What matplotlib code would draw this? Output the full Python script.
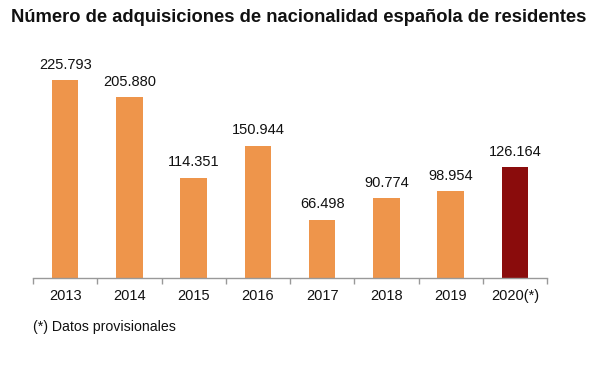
import matplotlib
matplotlib.use("Agg")
import matplotlib.pyplot as plt

plt.rcParams['font.family'] = ['Liberation Sans', 'DejaVu Sans']

years = ["2013", "2014", "2015", "2016", "2017", "2018", "2019", "2020(*)"]
values = [225793, 205880, 114351, 150944, 66498, 90774, 98954, 126164]
value_labels = ["225.793", "205.880", "114.351", "150.944", "66.498", "90.774", "98.954", "126.164"]
title = "Número de adquisiciones de nacionalidad española de residentes"
footnote = "(*) Datos provisionales"

W, H = 610, 373
fig = plt.figure(figsize=(W / 100, H / 100), dpi=100)
left, right, bottom, top = 33, 547, 278, 60
ax = fig.add_axes([left / W, (H - bottom) / H, (right - left) / W, (bottom - top) / H])

orange = "#EE954B"
red = "#8A0C0C"
colors = [orange] * 7 + [red]
x = list(range(len(years)))
ax.bar(x, values, width=0.41, color=colors)
ax.set_xlim(-0.5, len(years) - 0.5)
ax.set_ylim(0, 225793 * (bottom - top) / 198)

for xi, v, lab in zip(x, values, value_labels):
    ax.annotate(lab, (xi, v), xytext=(0, 6), textcoords="offset points",
                ha="center", va="bottom", fontsize=10.5, color="#111111")

for s in ["top", "right", "left"]:
    ax.spines[s].set_visible(False)
ax.spines["bottom"].set_color("#999999")
ax.spines["bottom"].set_linewidth(1.0)
ax.set_yticks([])
ax.set_xticks([i - 0.5 for i in range(len(years) + 1)], minor=False)
ax.set_xticklabels([])
ax.tick_params(axis="x", which="major", length=4, color="#999999", width=1.0)
ax.set_xticks(x, minor=True)
ax.set_xticklabels(years, minor=True, fontsize=10.5, color="#111111")
ax.tick_params(axis="x", which="minor", length=0, pad=8)

fig.text(11 / W, 1 - 17 / H, title, fontsize=13.2, fontweight="bold", va="center", ha="left", color="#111111")
fig.text(33 / W, 1 - 327 / H, footnote, fontsize=10.2, va="center", ha="left", color="#111111")

fig.savefig("out.png", dpi=100)
